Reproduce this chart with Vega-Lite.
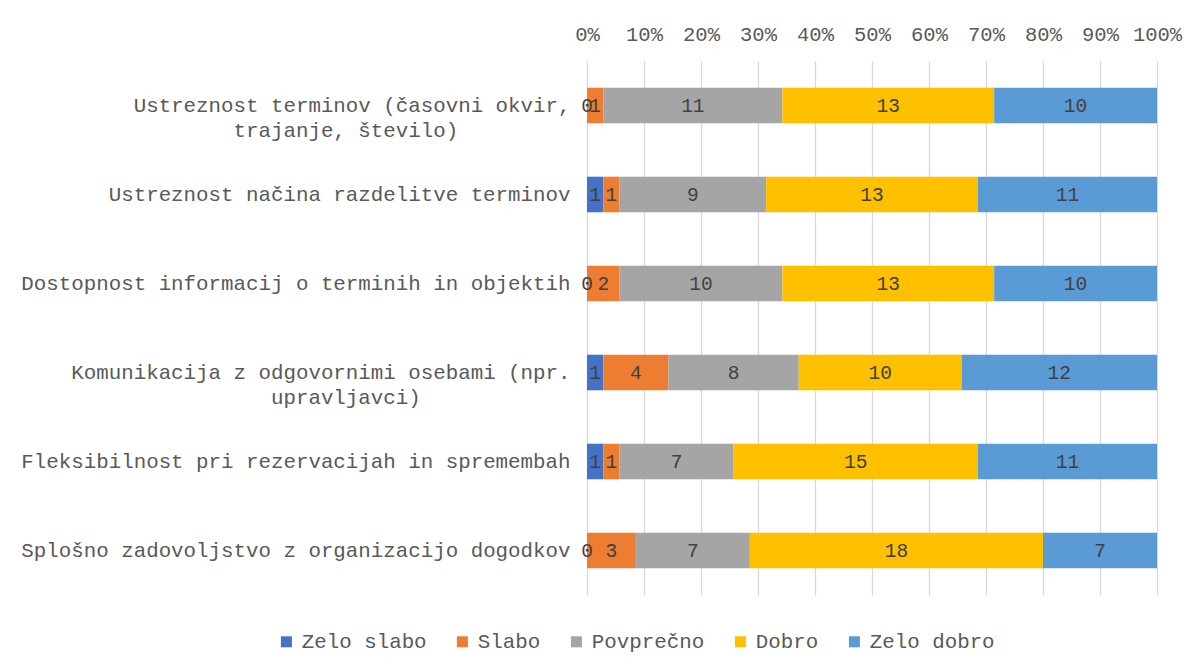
{
  "$schema": "https://vega.github.io/schema/vega-lite/v6.json",
  "autosize": {"type": "none"},
  "width": 570,
  "height": 534,
  "padding": {"left": 587, "top": 61, "right": 44, "bottom": 76},
  "background": "white",
  "config": {
    "view": {"stroke": null},
    "font": "Liberation Mono"
  },
  "data": {
    "values": [
      {"q": "Ustreznost terminov (časovni okvir, trajanje, število)", "qi": 1, "r": "Zelo slabo", "ri": 1, "n": 0},
      {"q": "Ustreznost terminov (časovni okvir, trajanje, število)", "qi": 1, "r": "Slabo", "ri": 2, "n": 1},
      {"q": "Ustreznost terminov (časovni okvir, trajanje, število)", "qi": 1, "r": "Povprečno", "ri": 3, "n": 11},
      {"q": "Ustreznost terminov (časovni okvir, trajanje, število)", "qi": 1, "r": "Dobro", "ri": 4, "n": 13},
      {"q": "Ustreznost terminov (časovni okvir, trajanje, število)", "qi": 1, "r": "Zelo dobro", "ri": 5, "n": 10},
      {"q": "Ustreznost načina razdelitve terminov", "qi": 2, "r": "Zelo slabo", "ri": 1, "n": 1},
      {"q": "Ustreznost načina razdelitve terminov", "qi": 2, "r": "Slabo", "ri": 2, "n": 1},
      {"q": "Ustreznost načina razdelitve terminov", "qi": 2, "r": "Povprečno", "ri": 3, "n": 9},
      {"q": "Ustreznost načina razdelitve terminov", "qi": 2, "r": "Dobro", "ri": 4, "n": 13},
      {"q": "Ustreznost načina razdelitve terminov", "qi": 2, "r": "Zelo dobro", "ri": 5, "n": 11},
      {"q": "Dostopnost informacij o terminih in objektih", "qi": 3, "r": "Zelo slabo", "ri": 1, "n": 0},
      {"q": "Dostopnost informacij o terminih in objektih", "qi": 3, "r": "Slabo", "ri": 2, "n": 2},
      {"q": "Dostopnost informacij o terminih in objektih", "qi": 3, "r": "Povprečno", "ri": 3, "n": 10},
      {"q": "Dostopnost informacij o terminih in objektih", "qi": 3, "r": "Dobro", "ri": 4, "n": 13},
      {"q": "Dostopnost informacij o terminih in objektih", "qi": 3, "r": "Zelo dobro", "ri": 5, "n": 10},
      {"q": "Komunikacija z odgovornimi osebami (npr. upravljavci)", "qi": 4, "r": "Zelo slabo", "ri": 1, "n": 1},
      {"q": "Komunikacija z odgovornimi osebami (npr. upravljavci)", "qi": 4, "r": "Slabo", "ri": 2, "n": 4},
      {"q": "Komunikacija z odgovornimi osebami (npr. upravljavci)", "qi": 4, "r": "Povprečno", "ri": 3, "n": 8},
      {"q": "Komunikacija z odgovornimi osebami (npr. upravljavci)", "qi": 4, "r": "Dobro", "ri": 4, "n": 10},
      {"q": "Komunikacija z odgovornimi osebami (npr. upravljavci)", "qi": 4, "r": "Zelo dobro", "ri": 5, "n": 12},
      {"q": "Fleksibilnost pri rezervacijah in spremembah", "qi": 5, "r": "Zelo slabo", "ri": 1, "n": 1},
      {"q": "Fleksibilnost pri rezervacijah in spremembah", "qi": 5, "r": "Slabo", "ri": 2, "n": 1},
      {"q": "Fleksibilnost pri rezervacijah in spremembah", "qi": 5, "r": "Povprečno", "ri": 3, "n": 7},
      {"q": "Fleksibilnost pri rezervacijah in spremembah", "qi": 5, "r": "Dobro", "ri": 4, "n": 15},
      {"q": "Fleksibilnost pri rezervacijah in spremembah", "qi": 5, "r": "Zelo dobro", "ri": 5, "n": 11},
      {"q": "Splošno zadovoljstvo z organizacijo dogodkov", "qi": 6, "r": "Zelo slabo", "ri": 1, "n": 0},
      {"q": "Splošno zadovoljstvo z organizacijo dogodkov", "qi": 6, "r": "Slabo", "ri": 2, "n": 3},
      {"q": "Splošno zadovoljstvo z organizacijo dogodkov", "qi": 6, "r": "Povprečno", "ri": 3, "n": 7},
      {"q": "Splošno zadovoljstvo z organizacijo dogodkov", "qi": 6, "r": "Dobro", "ri": 4, "n": 18},
      {"q": "Splošno zadovoljstvo z organizacijo dogodkov", "qi": 6, "r": "Zelo dobro", "ri": 5, "n": 7}
    ]
  },
  "encoding": {
    "y": {
      "field": "q",
      "type": "nominal",
      "sort": {"field": "qi", "order": "ascending"},
      "title": null,
      "scale": {"paddingInner": 0.6, "paddingOuter": 0.3},
      "axis": {
        "domain": false,
        "ticks": false,
        "labelPadding": 17,
        "labelFontSize": 20.8,
        "labelColor": "#595959",
        "labelLimit": 700,
        "labelLineHeight": 25,
        "labelExpr": "datum.label == 'Ustreznost terminov (časovni okvir, trajanje, število)' ? ['Ustreznost terminov (časovni okvir,', 'trajanje, število)\u00a0\u00a0\u00a0\u00a0\u00a0\u00a0\u00a0\u00a0\u00a0\u200b'] : datum.label == 'Komunikacija z odgovornimi osebami (npr. upravljavci)' ? ['Komunikacija z odgovornimi osebami (npr.', 'upravljavci)\u00a0\u00a0\u00a0\u00a0\u00a0\u00a0\u00a0\u00a0\u00a0\u00a0\u00a0\u00a0\u200b'] : datum.label"
      }
    }
  },
  "layer": [
    {
      "mark": {"type": "bar"},
      "encoding": {
        "x": {
          "field": "n",
          "type": "quantitative",
          "stack": "normalize",
          "title": null,
          "scale": {"domain": [0, 1], "nice": false},
          "axis": {
            "orient": "top",
            "format": ".0%",
            "values": [0, 0.1, 0.2, 0.3, 0.4, 0.5, 0.6, 0.7, 0.8, 0.9, 1],
            "domain": false,
            "ticks": false,
            "grid": true,
            "gridColor": "#D9D9D9",
            "gridWidth": 1.3,
            "labelPadding": 17,
            "labelFontSize": 20.5,
            "labelColor": "#595959",
            "labelFlush": false
          }
        },
        "color": {
          "field": "r",
          "type": "nominal",
          "scale": {
            "domain": ["Zelo slabo", "Slabo", "Povprečno", "Dobro", "Zelo dobro"],
            "range": ["#4472C4", "#ED7D31", "#A5A5A5", "#FFC000", "#5B9BD5"]
          },
          "legend": {
            "title": null,
            "orient": "none",
            "direction": "horizontal",
            "legendX": -311,
            "legendY": 570,
            "symbolType": "square",
            "symbolSize": 121,
            "symbolStrokeWidth": 0,
            "labelFontSize": 20.8,
            "labelColor": "#595959",
            "labelOffset": 5,
            "columnPadding": 25
          }
        },
        "order": {"field": "ri", "type": "quantitative"}
      }
    },
    {
      "mark": {"type": "text", "fontSize": 19.5, "color": "#404040", "baseline": "middle", "align": "center"},
      "encoding": {
        "x": {"field": "n", "type": "quantitative", "stack": "normalize", "bandPosition": 0.5},
        "detail": {"field": "r", "type": "nominal"},
        "order": {"field": "ri", "type": "quantitative"},
        "text": {"field": "n", "type": "quantitative"}
      }
    }
  ]
}
